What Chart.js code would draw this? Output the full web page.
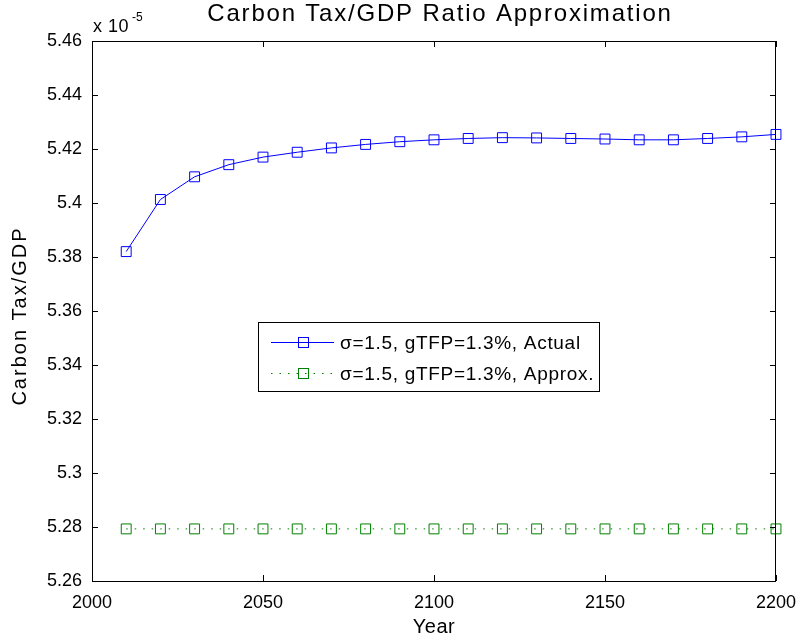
<!DOCTYPE html>
<html>
<head>
<meta charset="utf-8">
<script src="https://cdn.jsdelivr.net/npm/chart.js@4"></script>
<style>
  html, body { margin: 0; padding: 0; background: #fff; }
  #wrap { width: 798px; height: 640px; }
</style>
</head>
<body>
<div id="wrap"><canvas id="taxChart"></canvas></div>
<script>
// data (values in units of 1e-5)
const years = [2010, 2020, 2030, 2040, 2050, 2060, 2070, 2080, 2090, 2100,
               2110, 2120, 2130, 2140, 2150, 2160, 2170, 2180, 2190, 2200];
const actualRatio = [5.3820, 5.4013, 5.4097, 5.4142, 5.4170, 5.4188, 5.4204, 5.4217, 5.4227, 5.4234,
                     5.4239, 5.4242, 5.4241, 5.4239, 5.4237, 5.4234, 5.4234, 5.4239, 5.4245, 5.4254];
const approxRatio = [5.2793, 5.2793, 5.2793, 5.2793, 5.2793, 5.2793, 5.2793, 5.2793, 5.2793, 5.2793,
                     5.2793, 5.2793, 5.2793, 5.2793, 5.2793, 5.2793, 5.2793, 5.2793, 5.2793, 5.2793];
const seriesLabels = ['σ=1.5, gTFP=1.3%, Actual', 'σ=1.5, gTFP=1.3%, Approx.'];
const xRange = [2000, 2200];
const yRange = [5.26, 5.46];

const FONT = 'Arial, "Liberation Sans", Helvetica, sans-serif';

function toPoints(xs, ys) {
    return xs.map((x, i) => ({ x: x, y: ys[i] }));
}

function drawText(ctx, text, x, y, size, align, spacing) {
    ctx.font = size + 'px ' + FONT;
    ctx.letterSpacing = (spacing || 0) + 'px';
    ctx.textAlign = align;
    ctx.textBaseline = 'alphabetic';
    ctx.fillText(text, x, y);
}

// box, inward ticks, title, labels and legend in the matlab look
const matlabFrame = {
    id: 'matlabFrame',
    afterDraw(chart) {
        const ctx = chart.ctx;
        const area = chart.chartArea;
        const xs = chart.scales.x, ys = chart.scales.y;
        const tick = 6;
        ctx.save();
        ctx.strokeStyle = '#000';
        ctx.lineWidth = 1;
        ctx.strokeRect(area.left + 0.5, area.top + 0.5, area.right - area.left - 1, area.bottom - area.top);
        ctx.beginPath();
        xs.ticks.forEach(t => {
            const px = Math.round(xs.getPixelForValue(t.value)) + 0.5;
            ctx.moveTo(px, area.bottom); ctx.lineTo(px, area.bottom - tick);
            ctx.moveTo(px, area.top); ctx.lineTo(px, area.top + tick);
        });
        ys.ticks.forEach(t => {
            const py = Math.round(ys.getPixelForValue(t.value)) + 0.5;
            ctx.moveTo(area.left, py); ctx.lineTo(area.left + tick, py);
            ctx.moveTo(area.right, py); ctx.lineTo(area.right - tick, py);
        });
        ctx.stroke();

        ctx.fillStyle = '#000';
        drawText(ctx, 'Carbon Tax/GDP Ratio Approximation', 440, 21, 24, 'center', 1.8);
        drawText(ctx, 'x 10', 93, 32, 18, 'left', 0.5);
        drawText(ctx, '-5', 132, 21, 12, 'left', 0);
        drawText(ctx, 'Year', (area.left + area.right) / 2, 633, 20, 'center', 0.5);

        ctx.save();
        ctx.translate(26, 316);
        ctx.rotate(-Math.PI / 2);
        drawText(ctx, 'Carbon Tax/GDP', 0, 0, 20, 'center', 2);
        ctx.restore();

        // legend
        const box = { x: 258, y: 322, w: 341, h: 69 };
        ctx.fillStyle = '#fff';
        ctx.fillRect(box.x, box.y, box.w, box.h);
        ctx.strokeStyle = '#000';
        ctx.strokeRect(box.x + 0.5, box.y + 0.5, box.w, box.h);
        const rows = [342, 373];
        chart.data.datasets.forEach((ds, i) => {
            const yy = rows[i] + 0.5;
            ctx.strokeStyle = ds.borderColor;
            ctx.lineWidth = 1;
            ctx.setLineDash(ds.borderDash || []);
            ctx.beginPath();
            ctx.moveTo(271, yy); ctx.lineTo(334, yy);
            ctx.stroke();
            ctx.setLineDash([]);
            ctx.strokeRect(298.5, yy - 5, 10, 10);
            ctx.fillStyle = '#000';
            drawText(ctx, ds.label, 340, rows[i] + 7, 19, 'left', 0.7);
        });
        ctx.restore();
    }
};

const taxChart = new Chart(document.getElementById('taxChart'), {
    type: 'line',
    data: {
        datasets: [{
            label: seriesLabels[0],
            data: toPoints(years, actualRatio),
            borderColor: '#0000ff',
            borderWidth: 1,
            pointStyle: 'rect',
            pointRadius: 7,
            pointBorderWidth: 1,
            pointBorderColor: '#0000ff',
            pointBackgroundColor: 'rgba(0,0,0,0)',
            clip: false
        }, {
            label: seriesLabels[1],
            data: toPoints(years, approxRatio),
            borderColor: '#008000',
            borderWidth: 1,
            borderDash: [1.5, 7],
            pointStyle: 'rect',
            pointRadius: 7,
            pointBorderWidth: 1,
            pointBorderColor: '#008000',
            pointBackgroundColor: 'rgba(0,0,0,0)',
            clip: false
        }]
    },
    options: {
        responsive: true,
        maintainAspectRatio: false,
        animation: false,
        layout: { padding: { left: 0, right: 22, top: 41, bottom: 0 } },
        plugins: {
            legend: { display: false },
            title: { display: false },
            tooltip: { enabled: false }
        },
        scales: {
            x: {
                type: 'linear',
                min: xRange[0],
                max: xRange[1],
                afterFit(scale) {
                    scale.height = 59;
                    scale.paddingLeft = 0;
                    scale.paddingRight = 0;
                },
                grid: { display: true, drawOnChartArea: false, drawTicks: false },
                border: { display: false },
                ticks: {
                    stepSize: 50,
                    padding: 11,
                    color: '#000',
                    font: { family: FONT, size: 18 },
                    maxRotation: 0,
                    callback: v => String(v)
                }
            },
            y: {
                min: yRange[0],
                max: yRange[1],
                afterFit(scale) {
                    scale.width = 92;
                    scale.paddingTop = 0;
                    scale.paddingBottom = 0;
                },
                grid: { display: true, drawOnChartArea: false, drawTicks: false },
                border: { display: false },
                ticks: {
                    stepSize: 0.02,
                    padding: 10,
                    color: '#000',
                    font: { family: FONT, size: 18 },
                    callback: v => String(Number(v.toFixed(2)))
                }
            }
        }
    },
    plugins: [matlabFrame]
});
</script>
</body>
</html>
